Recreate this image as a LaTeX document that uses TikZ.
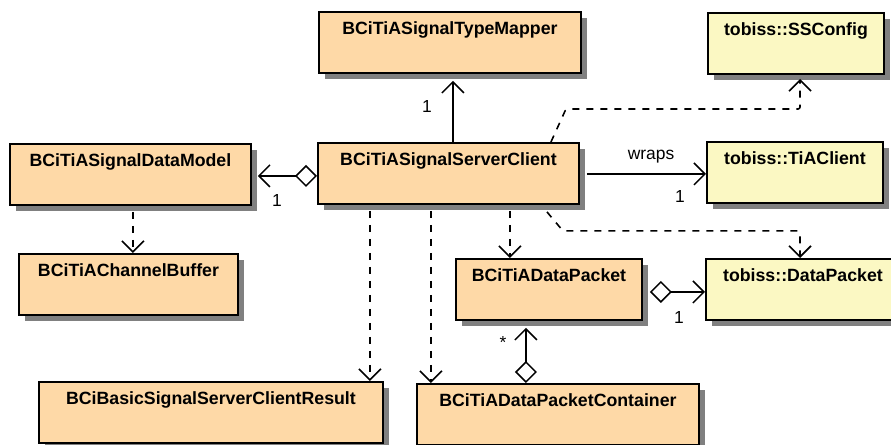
\documentclass[tikz,border=0pt]{standalone}
\usepackage{fontspec}
\setmainfont{Liberation Sans}
\usetikzlibrary{arrows.meta,shadows,calc}
\definecolor{classorange}{RGB}{254,217,167}
\definecolor{classyellow}{RGB}{251,248,195}
\definecolor{shadowgray}{RGB}{128,128,128}
\tikzset{
  classbox/.style={draw=black, line width=1.9bp, fill=classorange, anchor=north west,
    inner xsep=0pt, inner ysep=0pt, text height=23bp, text depth=38bp,
    font=\fontsize{17.8}{21}\selectfont\bfseries,
    drop shadow={shadow xshift=6bp, shadow yshift=-6bp, fill=shadowgray, opacity=1}},
  extbox/.style={classbox, fill=classyellow},
  openhead/.tip={Straight Barb[length=11bp,width=22bp]},
  assoc/.style={line width=1.5bp, -openhead},
  aggr/.style={line width=1.5bp, {Diamond[length=22bp,width=22bp,fill=white]}-openhead},
  dep/.style={line width=1.6bp, dash pattern=on 7bp off 7bp, rounded corners=2bp, -openhead},
  mult/.style={font=\fontsize{17.5}{21}\selectfont, inner sep=0pt}
}
\begin{document}
\begin{tikzpicture}[x=1bp,y=-1bp]
\useasboundingbox (0,0) rectangle (891,445);

% classes
\node[classbox, minimum width=262bp] (tm)  at (318,11)  {BCiTiASignalTypeMapper};
\node[classbox, minimum width=261bp] (sc)  at (317,142) {BCiTiASignalServerClient};
\node[extbox,   minimum width=176bp] (ss)  at (707,12)  {tobiss::SSConfig};
\node[extbox,   minimum width=176bp] (tc)  at (706,141) {tobiss::TiAClient};
\node[classbox, minimum width=241bp] (dm)  at (9,143)   {BCiTiASignalDataModel};
\node[classbox, minimum width=219bp] (cb)  at (18,253)  {BCiTiAChannelBuffer};
\node[classbox, minimum width=186bp] (dp)  at (455,258) {BCiTiADataPacket};
\node[extbox,   minimum width=200bp] (tdp) at (705,258) {\hspace*{-6bp}tobiss::DataPacket};
\node[classbox, minimum width=282bp] (dpc) at (416,383) {BCiTiADataPacketContainer};
\node[classbox, minimum width=344bp] (res) at (38,381)  {BCiBasicSignalServerClientResult};

% associations
\coordinate (p1) at ($(sc.north)+(4.5,0)$);
\draw[assoc] (p1) -- ($(p1 |- tm.south)+(0,7)$);
\node[mult] (m1) at (427,107) {1};

\coordinate (p2) at ($(sc.west)+(0,2.5)$);
\draw[aggr] (p2) -- ($(p2 -| dm.east)+(6,0)$);
\node[mult] (m2) at (277,201) {1};

\coordinate (p3) at ($(sc.east)+(7,0.5)$);
\draw[assoc] (p3) -- (p3 -| tc.west);
\node[mult] (w3) at (651,157) {wraps};
\node[mult] (m3) at (680,197) {1};

\coordinate (p10) at ($(dp.east)+(7,2.5)$);
\draw[aggr] (p10) -- (p10 -| tdp.west);
\node[mult] (m10) at (679,318) {1};

\coordinate (p11) at ($(dpc.north)+(-32,0)$);
\draw[aggr] (p11) -- ($(p11 |- dp.south)+(0,7)$);
\node[mult] (m11) at (503,343) {*};

% dependencies
\draw[dep] ($(sc.north)+(102.5,0)$) -- ++(15,-33) -| ($(ss.north west)+(93,67)$);
\draw[dep] ($(dm.south)+(2.5,6)$) coordinate (p5) -- (p5 |- cb.north);
\draw[dep] ($(sc.south)+(61.5,6)$) coordinate (p6) -- (p6 |- dp.north);
\draw[dep] ($(sc.south)+(98.5,7)$) -- ++(16,19) -| ($(tdp.north west)+(95,0)$);
\draw[dep] ($(sc.south)+(-78.5,6)$) coordinate (p8) -- (p8 |- res.north);
\draw[dep] ($(sc.south)+(-17.5,6)$) coordinate (p9) -- (p9 |- dpc.north);
\end{tikzpicture}
\end{document}
